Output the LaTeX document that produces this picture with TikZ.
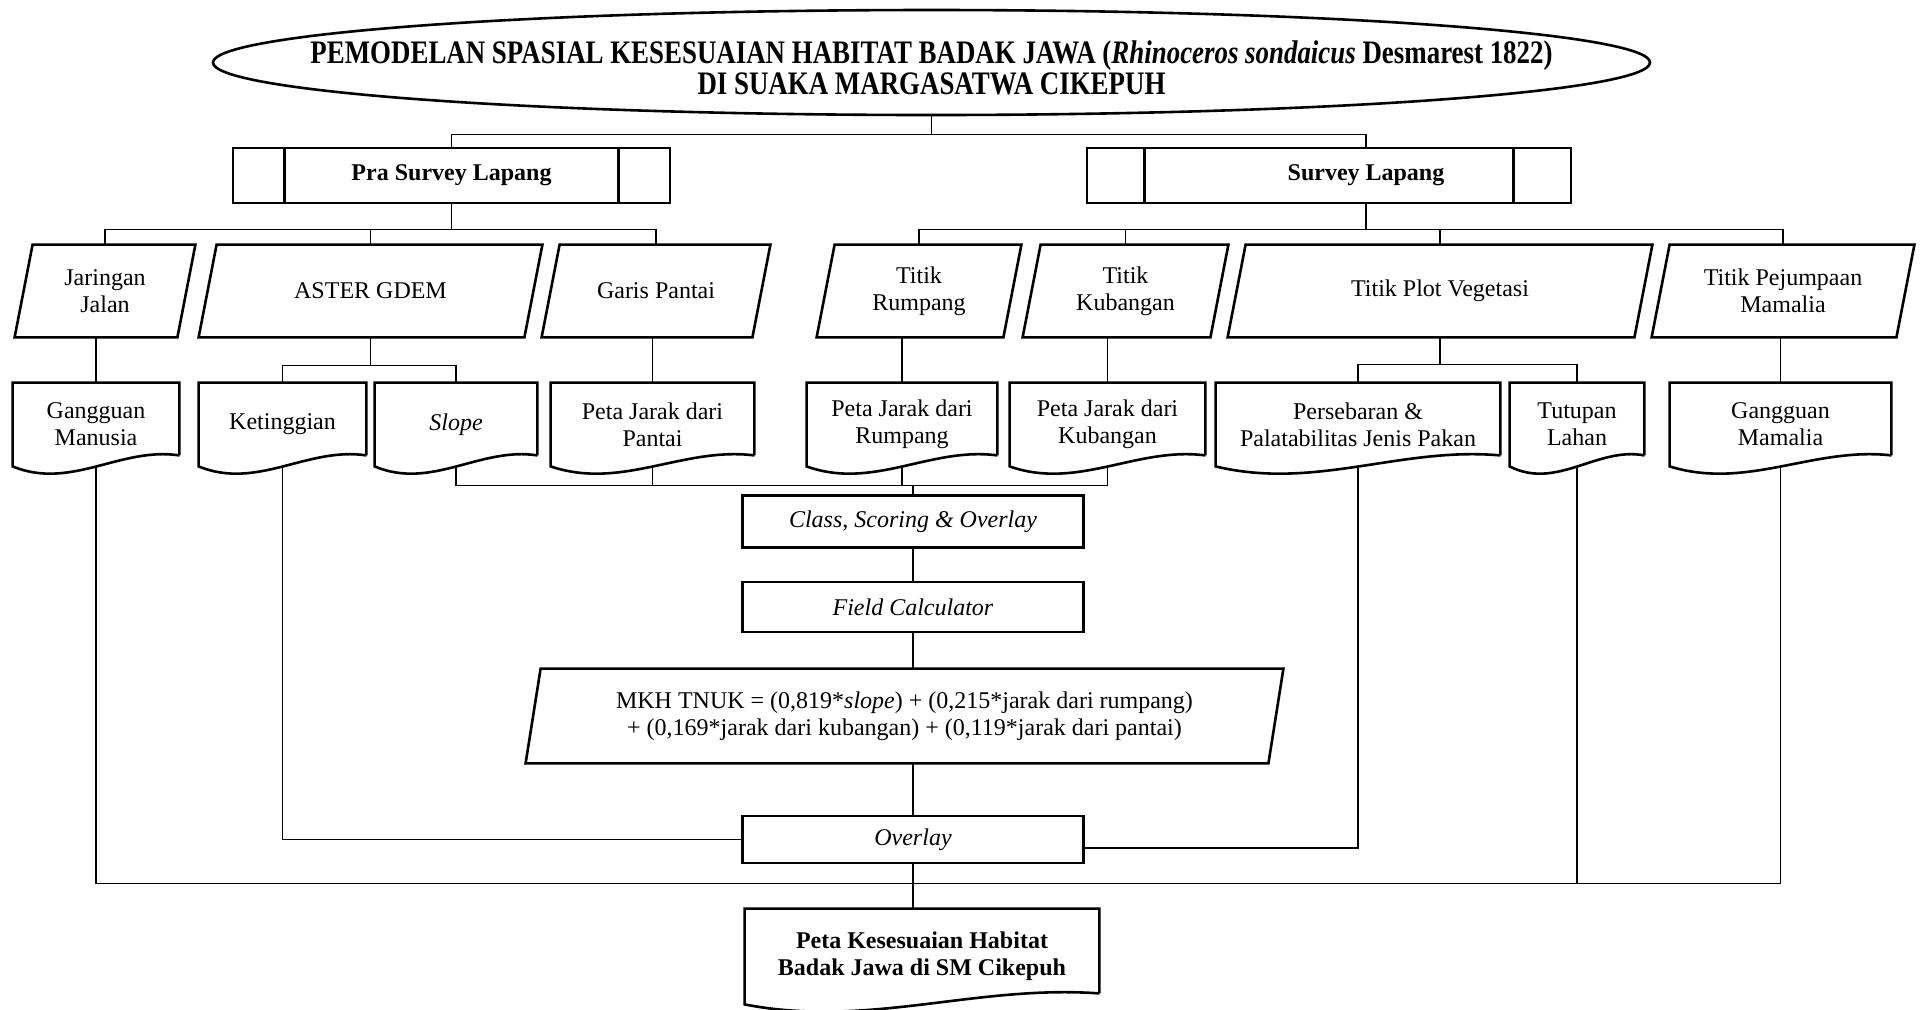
\documentclass[tikz,border=0pt]{standalone}
\usepackage{fontspec}
\setmainfont{Liberation Serif}
\newfontfamily\titlefont{Liberation Serif}[FakeStretch=0.82]
\usetikzlibrary{calc}

\newcommand{\bodyfont}{\fontsize{12}{13.5}\selectfont}
% wavy bottom of a document box
\newcommand{\docframe}[1]{%
  \draw[box line] ($(#1.south east)+(0,-11)$) -- (#1.north east) -- (#1.north west) -- (#1.south west)
    .. controls ($(#1.south west)!0.35!(#1.south east)+(0,24)$) and ($(#1.south west)!0.65!(#1.south east)+(0,-20)$)
    .. ($(#1.south east)+(0,-11)$);}
% slanted outline of a data box
\newcommand{\dataframe}[2]{%
  \draw[box line] ([xshift=-#2]#1.south west) -- ([xshift=#2]#1.north west) -- ([xshift=#2]#1.north east) -- ([xshift=-#2]#1.south east) -- cycle;}
% side bars of a predefined process box
\newcommand{\sidebars}[2]{%
  \draw[box line] ([xshift=#2]#1.north west) -- ([xshift=#2]#1.south west);
  \draw[box line] ([xshift=-#2]#1.north east) -- ([xshift=-#2]#1.south east);}

\begin{document}
\begin{tikzpicture}
		[x=0.5pt,y=-0.5pt,font=\bodyfont,
		%Styles
		box line/.style={line width=1.3pt},
		link/.style={line width=0.7pt},
		title node/.style={rectangle,minimum width=718.5pt,minimum height=47.5pt,inner sep=0pt,align=center,font=\titlefont\fontsize{16.4}{15.5}\selectfont\bfseries},
		stage node/.style={rectangle,draw,box line,minimum height=27.5pt,inner sep=0pt,font=\bodyfont\bfseries},
		data node/.style={rectangle,minimum height=46pt,inner sep=0pt,align=center},
		doc node/.style={rectangle,minimum height=41.5pt,inner sep=0pt,align=center},
		process node/.style={rectangle,draw,box line,minimum width=170.5pt,inner sep=0pt}
		]
		\useasboundingbox (0,0) rectangle (1921,1009);
		\fill[white] (0,0) rectangle (1921,1009);

		%The graphic
		\node[title node] (ttl) at (931.5,67.5) {PEMODELAN SPASIAL KESESUAIAN HABITAT BADAK JAWA (\textit{Rhinoceros sondaicus} Desmarest 1822)\\DI SUAKA MARGASATWA CIKEPUH};
		\draw[box line] ([yshift=2.5pt]ttl.center) ellipse (359.25pt and 26.25pt);

		\node[stage node,minimum width=218.5pt] (pra) at (451.5,175.5) {Pra Survey Lapang};
		\node[stage node,minimum width=242pt] (sur) at (1329,175.5) {\hspace*{37pt}Survey Lapang};
		\sidebars{pra}{26.5pt}
		\sidebars{sur}{29.5pt}

		\node[data node,minimum width=81pt] (jj) at (105,291) {Jaringan\\Jalan};
		\node[data node,minimum width=162.5pt] (ast) at (370.5,291) {ASTER GDEM};
		\node[data node,minimum width=105pt] (grs) at (656,291) {Garis Pantai};
		\node[data node,minimum width=93pt] (trp) at (919,291) {Titik\\Rumpang};
		\node[data node,minimum width=93.5pt] (tkb) at (1125.5,291) {Titik\\Kubangan};
		\node[data node,minimum width=203pt] (tpv) at (1440,291) {Titik Plot Vegetasi};
		\node[data node,minimum width=122pt] (tpj) at (1783,291) {Titik Pejumpaan\\Mamalia};
		\foreach \d in {jj,ast,grs,trp,tkb,tpv,tpj}
			{\dataframe{\d}{4.5pt}}

		\node[doc node,minimum width=83pt] (gmn) at (96,424.5) {Gangguan\\Manusia};
		\node[doc node,minimum width=83.5pt] (ket) at (282.5,424.5) {Ketinggian};
		\node[doc node,minimum width=81pt] (slp) at (456,424.5) {\textit{Slope}};
		\node[doc node,minimum width=101.5pt] (pjp) at (652.5,424.5) {Peta Jarak dari\\Pantai};
		\node[doc node,minimum width=95pt] (prm) at (902,424.5) {Peta Jarak dari\\Rumpang};
		\node[doc node,minimum width=97.5pt] (pkb) at (1107.5,424.5) {Peta Jarak dari\\Kubangan};
		\node[doc node,minimum width=142pt] (psb) at (1358,424.5) {Persebaran \&\\Palatabilitas Jenis Pakan};
		\node[doc node,minimum width=67pt] (ttp) at (1577,424.5) {Tutupan\\Lahan};
		\node[doc node,minimum width=110.5pt] (gml) at (1780.5,424.5) {Gangguan\\Mamalia};

		\node[process node,minimum height=26pt] (cls) at (913,521.5) {\textit{Class}, \textit{Scoring \& Overlay}};
		\node[process node,minimum height=25pt] (fld) at (913,607) {\textit{Field Calculator}};
		\node[data node,minimum width=371pt,minimum height=47pt] (mkh) at (904.5,716)
			{MKH TNUK = (0,819*\textit{slope}) + (0,215*jarak dari rumpang)\\+ (0,169*jarak dari kubangan) + (0,119*jarak dari pantai)};
		\dataframe{mkh}{3.75pt}
		\node[process node,minimum height=23.5pt] (ovl) at (913,839.5) {\textit{Overlay}};

		\node[doc node,minimum width=177pt,minimum height=47.5pt,font=\bodyfont\bfseries] (fin) at (922,956.5) {Peta Kesesuaian Habitat\\Badak Jawa di SM Cikepuh};

		\foreach \d in {gmn,ket,slp,pjp,prm,pkb,psb,ttp,gml,fin}
			{\docframe{\d}}

		%Connectors
		\draw[link] (ttl.south) -- ++(0,19) coordinate (jt);
		\draw[link] (pra.north) |- (jt) -| ([xshift=18.5pt]sur.north);

		\draw[link] (pra.south) -- ++(0,25) coordinate (jp);
		\draw[link] (jj.north) |- (jp) -| (grs.north);
		\draw[link] (ast.north) -- (ast.north |- jp);
		\draw[link] ([xshift=18.5pt]sur.south) -- ++(0,25) coordinate (js);
		\draw[link] (trp.north) |- (js) -| (tpj.north);
		\draw[link] (tkb.north) -- (tkb.north |- js);
		\draw[link] (tpv.north) -- (tpv.north |- js);

		\draw[link] (jj.south -| gmn.north) -- (gmn.north);
		\draw[link] (ast.south) -- ++(0,28) coordinate (ja);
		\draw[link] (ket.north) |- (ja) -| (slp.north);
		\draw[link] (grs.south -| pjp.north) -- (pjp.north);
		\draw[link] (trp.south -| prm.north) -- (prm.north);
		\draw[link] (tkb.south -| pkb.north) -- (pkb.north);
		\draw[link] (tpv.south) -- ++(0,27) coordinate (jv);
		\draw[link] (psb.north) |- (jv) -| (ttp.north);
		\draw[link] (tpj.south -| gml.north) -- (gml.north);

		\path (cls.north) ++(0,-9) coordinate (jc);
		\draw[link] (slp.south) |- (jc) -| (pkb.south);
		\draw[link] (pjp.south) -- (pjp.south |- jc);
		\draw[link] (prm.south) -- (prm.south |- jc);
		\draw[link] (jc) -- (cls.north);
		\draw[link] (cls.south) -- (fld.north);
		\draw[link] (fld.south) -- (fld.south |- mkh.north);
		\draw[link] (mkh.south -| ovl.north) -- (ovl.north);
		\draw[link] (ket.south) |- (ovl.west);
		\draw[link] (psb.south) |- ([yshift=-4.25pt]ovl.east);

		\draw[link] (ovl.south) -- (ovl.south |- fin.north);
		\path (ovl.south) ++(0,19) coordinate (jb);
		\draw[link] (gmn.south) |- (jb) -| (gml.south);
		\draw[link] (ttp.south) -- (ttp.south |- jb);
	\end{tikzpicture}
\end{document}
